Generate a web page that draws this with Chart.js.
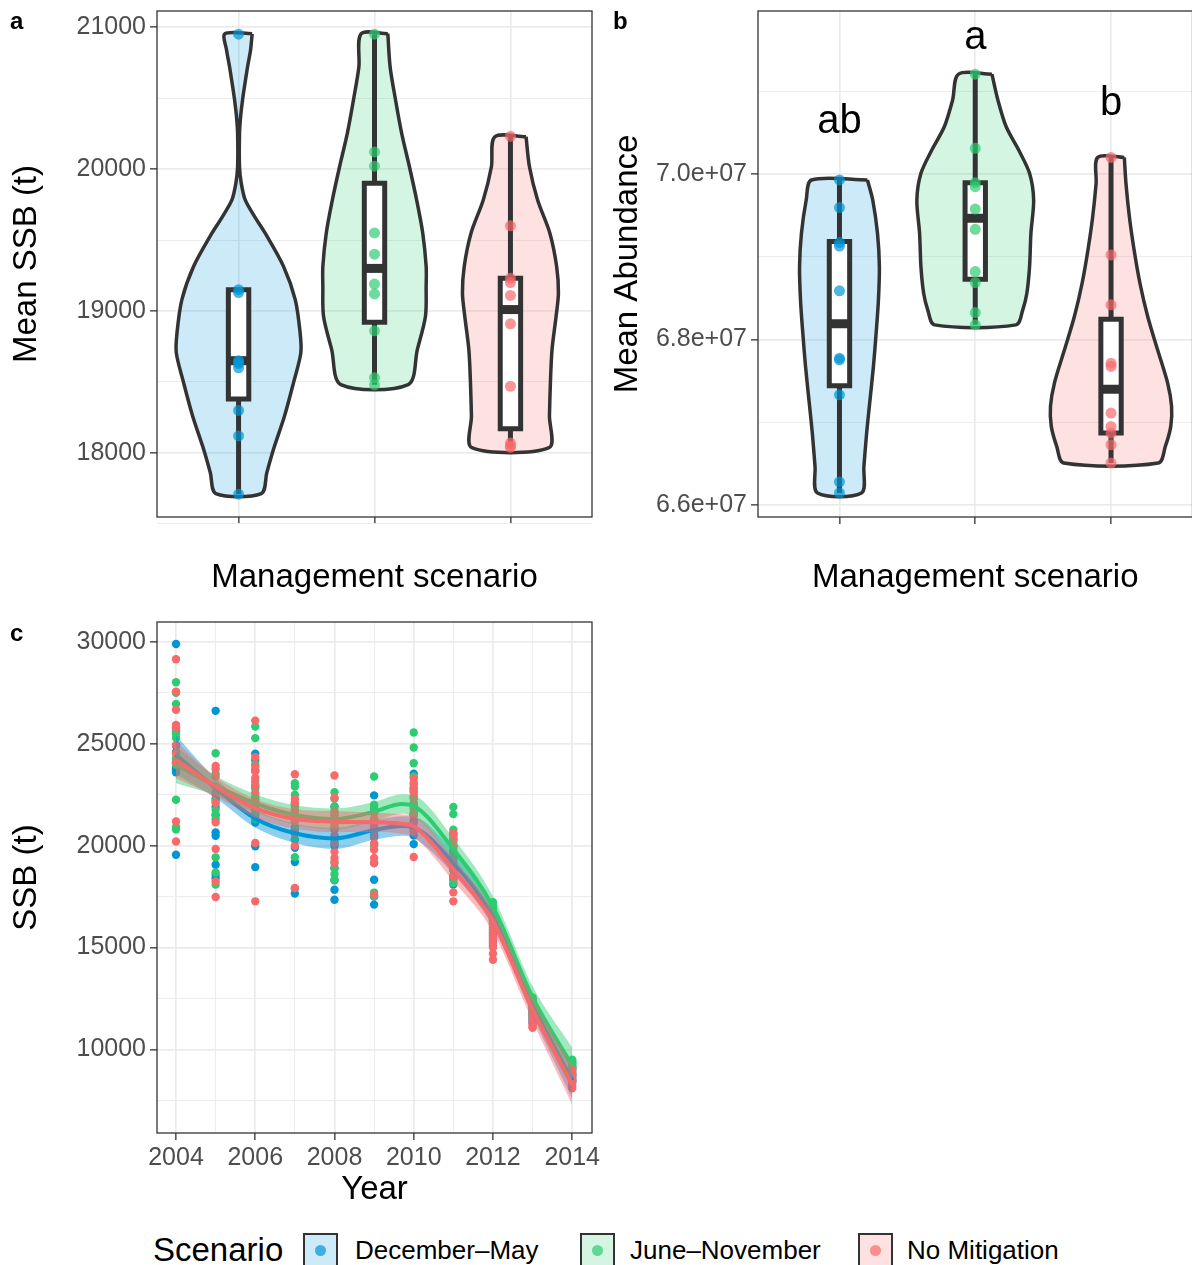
<!DOCTYPE html>
<html>
<head>
<meta charset="utf-8">
<title>SSB by management scenario</title>
<script src="https://cdn.jsdelivr.net/npm/chart.js@4.4.1/dist/chart.umd.min.js"></script>
<style>
  body { margin: 0; width: 1192px; height: 1265px; position: relative; overflow: hidden; background: #fff;
         font-family: 'Liberation Sans', Arial, sans-serif; color: #000; }
  canvas { position: absolute; }
  .tag { position: absolute; font-size: 24px; font-weight: bold; line-height: 1; }
  .legend-title { position: absolute; left: 153px; top: 1231px; font-size: 33px; line-height: 38px; }
  .key { position: absolute; top: 1233px; width: 31px; height: 31px; border: 2px solid #333; box-sizing: content-box; }
  .key span { position: absolute; left: 10px; top: 10px; width: 11px; height: 11px; border-radius: 50%; }
  .key-label { position: absolute; top: 1235px; font-size: 26px; line-height: 30px; }
</style>
</head>
<body>
<canvas id="chartA" width="600" height="610" style="left:0;top:0"></canvas>
<canvas id="chartB" width="598" height="610" style="left:600px;top:0"></canvas>
<canvas id="chartC" width="600" height="620" style="left:0;top:610px"></canvas>
<div class="tag" style="left:10px;top:9px">a</div>
<div class="tag" style="left:613px;top:9px">b</div>
<div class="tag" style="left:10px;top:621px">c</div>
<div id="legend"></div>

<script>
Chart.defaults.font.family = "'Liberation Sans', Arial, sans-serif";
Chart.defaults.color = '#4d4d4d';

// Scenarios
const scenarioNames = ['December–May', 'June–November', 'No Mitigation'];
const scenarioColors = ['#0096d6', '#2ecc71', '#f8696b'];
const categoryPos = [1, 2, 3];

// Panel a: mean SSB per replicate
const ssbPoints = [
    [20950, 19150, 19130, 18650, 18640, 18630, 18600, 18300, 18120, 17710],
    [20950, 20120, 20020, 19550, 19400, 19190, 19120, 18860, 18530, 18480],
    [20230, 19600, 19230, 19200, 19110, 18910, 18470, 18070, 18050, 18040]
];
// lower whisker, q1, median, q3, upper whisker
const ssbBoxStats = [
    [17710, 18380, 18650, 19150, 19150],
    [18480, 18920, 19300, 19900, 20950],
    [18040, 18170, 19010, 19230, 20230]
];
const ssbViolinY = [
    [20953, 20836, 20719, 20602, 20485, 20368, 20251, 20016, 19899, 19782, 19665, 19548, 19314, 19080, 18845, 18705, 18494, 18260, 18026, 17862, 17714],
    [20953, 20719, 20485, 20251, 20016, 19782, 19548, 19314, 19173, 18963, 18728, 18482],
    [20227, 20016, 19782, 19548, 19314, 19126, 18963, 18728, 18494, 18260, 18037]
];
const ssbViolinW = [
    [0.100, 0.088, 0.066, 0.047, 0.029, 0.015, 0.007, 0.007, 0.020, 0.049, 0.118, 0.196, 0.331, 0.417, 0.453, 0.458, 0.404, 0.338, 0.257, 0.208, 0.167],
    [0.098, 0.115, 0.155, 0.200, 0.257, 0.310, 0.355, 0.380, 0.380, 0.375, 0.315, 0.248],
    [0.115, 0.140, 0.200, 0.290, 0.340, 0.353, 0.336, 0.306, 0.294, 0.287, 0.284]
];
const ssbTicks = [17500, 18000, 18500, 19000, 19500, 20000, 20500, 21000];
const ssbTickLabels = ['', '18000', '', '19000', '', '20000', '', '21000'];

// Panel b: mean abundance per replicate
const abundancePoints = [
    [69928000, 69594000, 69171000, 69130000, 68588000, 67775000, 67755000, 67332000, 66278000, 66145000],
    [71207000, 70310000, 69895000, 69847000, 69577000, 69332000, 68821000, 68688000, 68326000, 68177000],
    [70201000, 69022000, 68419000, 67714000, 67674000, 67111000, 66950000, 66869000, 66728000, 66507000]
];
const abundanceBoxStats = [
    [66145000, 67441000, 68189000, 69183000, 69928000],
    [68177000, 68728000, 69465000, 69895000, 71207000],
    [66507000, 66869000, 67400000, 68245000, 70201000]
];
const abundanceViolinY = [
    [69928000, 69686000, 69284000, 68881000, 68479000, 68076000, 67674000, 67272000, 66869000, 66467000, 66145000],
    [71207000, 70893000, 70571000, 70290000, 70008000, 69686000, 69284000, 68881000, 68559000, 68358000, 68177000],
    [70201000, 69887000, 69485000, 69082000, 68680000, 68278000, 67875000, 67473000, 67191000, 66950000, 66708000, 66507000]
];
const abundanceViolinW = [
    [0.206, 0.245, 0.280, 0.294, 0.287, 0.270, 0.250, 0.225, 0.200, 0.180, 0.162],
    [0.123, 0.167, 0.228, 0.320, 0.400, 0.430, 0.410, 0.400, 0.380, 0.350, 0.300],
    [0.098, 0.110, 0.135, 0.170, 0.213, 0.270, 0.343, 0.417, 0.446, 0.440, 0.400, 0.348]
];
const abundanceTicks = [66000000, 67000000, 68000000, 69000000, 70000000, 71000000];
const abundanceTickLabels = ['6.6e+07', '', '6.8e+07', '', '7.0e+07', ''];
const abundanceLetters = ['ab', 'a', 'b'];
const abundanceLetterY = [70494000, 71506000, 70711000];

// Panel c: yearly SSB per replicate
const years = [2004, 2005, 2006, 2007, 2008, 2009, 2010, 2011, 2012, 2013, 2014];
const yearTickLabels = ['2004', '', '2006', '', '2008', '', '2010', '', '2012', '', '2014'];
const ssbYearTicks = [7500, 10000, 12500, 15000, 17500, 20000, 22500, 25000, 27500, 30000];
const ssbYearTickLabels = ['', '10000', '', '15000', '', '20000', '', '25000', '', '30000'];
const ssbDecMay = [
    [29900, 25800, 25600, 24900, 24600, 24100, 23800, 23700, 23600, 19560],
    [26620, 22600, 22300, 21900, 21500, 20650, 20490, 19070, 18580, 18400],
    [24510, 24210, 23700, 22900, 22300, 21800, 21140, 19970, 18950, 21500],
    [22100, 21700, 21300, 20900, 20600, 20300, 19900, 19200, 17900, 17650],
    [21930, 21600, 21200, 20800, 20400, 20000, 18900, 18300, 17840, 17350],
    [22470, 21800, 21300, 20900, 20500, 20100, 19150, 18330, 17500, 17110],
    [23530, 22800, 22400, 22000, 21600, 21520, 21200, 20800, 20500, 20080],
    [20600, 20300, 20000, 19700, 19400, 19100, 18800, 18500, 18330, 18100],
    [16900, 16700, 16500, 16300, 16100, 15900, 15700, 15500, 15300, 15100],
    [12300, 12200, 12000, 11900, 11800, 11700, 11600, 11500, 11400, 11300],
    [9100, 9000, 8900, 8800, 8750, 8700, 8600, 8500, 8450, 8400]
];
const ssbJunNov = [
    [28020, 27500, 26960, 25520, 25300, 24300, 23970, 22255, 20915, 20800],
    [24540, 23530, 22900, 22200, 21760, 21520, 21300, 19430, 18690, 18090],
    [25850, 25280, 24000, 23150, 22800, 22420, 22100, 21800, 21600, 21300],
    [23070, 22900, 22500, 22000, 21600, 21200, 20800, 20290, 19440, 21900],
    [22630, 22300, 21900, 21500, 21000, 20200, 19200, 18900, 18600, 18330],
    [23400, 22010, 21900, 21600, 21200, 20800, 20400, 20000, 17700, 17520],
    [25556, 24820, 24050, 23400, 23000, 22700, 22400, 22100, 21800, 21500],
    [21900, 21550, 20790, 20500, 20200, 19900, 19600, 19200, 18800, 18170],
    [17222, 17026, 16900, 16800, 16700, 16600, 16500, 16400, 16300, 16200],
    [12550, 12450, 12350, 12250, 12150, 12050, 11950, 11850, 11750, 11650],
    [9500, 9450, 9400, 9350, 9300, 9250, 9200, 9150, 9100, 9050]
];
const ssbNoMit = [
    [29150, 27565, 26670, 25930, 25770, 24950, 24540, 24085, 21190, 20210],
    [23920, 23760, 23400, 22900, 22500, 22100, 21150, 19840, 18250, 17480],
    [26140, 24350, 23890, 23640, 23320, 22990, 22600, 22200, 20130, 17270],
    [23510, 22300, 22000, 21700, 21440, 21200, 20600, 20000, 17925, 22100],
    [23450, 22340, 21680, 21300, 20900, 20500, 20100, 19700, 19400, 19150],
    [21600, 21300, 21000, 20700, 20400, 20100, 19800, 19400, 19150, 17600],
    [23300, 23100, 22830, 22600, 22300, 21900, 21500, 21100, 20700, 19445],
    [20620, 20450, 20300, 20000, 19700, 19300, 18900, 18500, 17710, 17270],
    [16400, 16200, 16000, 15800, 15600, 15400, 15200, 15000, 14700, 14400],
    [12450, 12250, 12050, 11850, 11650, 11450, 11300, 11200, 11100, 11060],
    [9000, 8900, 8800, 8700, 8600, 8500, 8400, 8300, 8200, 8100]
];
// Smoothed trend and confidence half-widths
const smoothYears = [2004, 2005, 2006, 2007, 2008, 2009, 2009.7, 2010, 2011, 2012, 2013, 2014];
const smoothDecMay = [24460, 22820, 21340, 20610, 20360, 20770, 20970, 20900, 19150, 16536, 12200, 8480];
const smoothJunNov = [23970, 22950, 22080, 21510, 21310, 21670, 22050, 21950, 19820, 17000, 12550, 9200];
const smoothNoMit = [24210, 22900, 21840, 21310, 21180, 21150, 21070, 20950, 18820, 16290, 11950, 8250];
const bandDecMay = [950, 480, 450, 480, 520, 480, 480, 520, 550, 520, 550, 900];
const bandJunNov = [900, 480, 450, 480, 520, 480, 480, 520, 550, 520, 550, 900];
const bandNoMit = [900, 480, 450, 480, 520, 480, 480, 520, 550, 520, 550, 950];

const BOX_HALF = 0.075;

function alpha(hex, a) {
    const n = parseInt(hex.slice(1), 16);
    return `rgba(${n >> 16}, ${(n >> 8) & 255}, ${n & 255}, ${a})`;
}

// first dataset in the list is drawn first (bottom)
function stackOrder(sets) {
    sets.forEach((s, i) => { s.order = sets.length - i; });
    return sets;
}

// Frame around the plotting area
const panelBorder = {
    id: 'panelBorder',
    afterDraw(chart) {
        const { ctx, chartArea: a } = chart;
        ctx.save();
        ctx.strokeStyle = '#333';
        ctx.lineWidth = 1.3;
        ctx.strokeRect(a.left, a.top, a.right - a.left, a.bottom - a.top);
        ctx.restore();
    }
};

// Significance letters above the violins
const groupLetters = {
    id: 'groupLetters',
    afterDatasetsDraw(chart) {
        const { ctx, scales: { x, y } } = chart;
        ctx.save();
        ctx.font = "40px 'Liberation Sans', Arial, sans-serif";
        ctx.fillStyle = '#000';
        ctx.textAlign = 'center';
        ctx.textBaseline = 'alphabetic';
        abundanceLetters.forEach((t, i) => {
            ctx.fillText(t, x.getPixelForValue(categoryPos[i]), y.getPixelForValue(abundanceLetterY[i]));
        });
        ctx.restore();
    }
};

function gridOpts(isMajor) {
    return {
        color: '#ebebeb',
        lineWidth: ctx => isMajor(ctx.index) ? 1.7 : 0.9,
        tickLength: 7,
        tickWidth: 1.3,
        tickColor: ctx => isMajor(ctx.index) ? '#333' : 'rgba(0,0,0,0)'
    };
}

// fixed axis sizes so the plotting areas line up like the original
function fixX(height) {
    return s => { s.height = height; s.paddingLeft = 0; s.paddingRight = 0; };
}
function fixY(width) {
    return s => { s.width = width; s.paddingTop = 0; s.paddingBottom = 0; };
}

function violinLayers(points, stats, vY, vW) {
    const violins = [], whiskers = [], boxes = [], medians = [], dots = [];
    scenarioNames.forEach((name, g) => {
        const c = categoryPos[g];
        const col = scenarioColors[g];
        const outline = vY[g].map((y, i) => ({ x: c + vW[g][i], y }));
        for (let i = vY[g].length - 1; i >= 0; i--) {
            outline.push({ x: c - vW[g][i], y: vY[g][i] });
        }
        outline.push({ ...outline[0] });
        violins.push({
            label: name, data: outline, borderColor: '#333', borderWidth: 3.5,
            backgroundColor: alpha(col, 0.2), fill: 'shape', tension: 0.3,
            pointRadius: 0, borderJoinStyle: 'round'
        });

        const [lo, q1, med, q3, hi] = stats[g];
        whiskers.push({
            data: [{ x: c, y: lo }, { x: c, y: hi }],
            borderColor: '#333', borderWidth: 5, pointRadius: 0, fill: false
        });
        boxes.push({
            data: [
                { x: c - BOX_HALF, y: q1 }, { x: c + BOX_HALF, y: q1 },
                { x: c + BOX_HALF, y: q3 }, { x: c - BOX_HALF, y: q3 },
                { x: c - BOX_HALF, y: q1 }
            ],
            borderColor: '#333', borderWidth: 5, backgroundColor: '#fff', fill: 'shape',
            tension: 0, pointRadius: 0, borderJoinStyle: 'miter', borderCapStyle: 'square'
        });
        medians.push({
            data: [{ x: c - BOX_HALF, y: med }, { x: c + BOX_HALF, y: med }],
            borderColor: '#333', borderWidth: 9, pointRadius: 0, fill: false, borderCapStyle: 'butt'
        });
        dots.push({
            data: points[g].map(y => ({ x: c, y })),
            showLine: false, pointRadius: 5.5, pointBorderWidth: 0,
            pointBackgroundColor: alpha(col, 0.7)
        });
    });
    return stackOrder([...violins, ...whiskers, ...boxes, ...medians, ...dots]);
}

function violinChart(id, sets, yCfg, extraPlugins) {
    return new Chart(document.getElementById(id), {
        type: 'line',
        data: { datasets: sets },
        options: {
            responsive: false,
            animation: false,
            events: [],
            layout: { padding: { top: 11, right: yCfg.padRight, left: 0, bottom: 0 } },
            plugins: { legend: { display: false }, tooltip: { enabled: false } },
            scales: {
                x: {
                    type: 'linear', min: 0.4, max: 3.6,
                    afterBuildTicks: s => { s.ticks = categoryPos.map(v => ({ value: v })); },
                    afterFit: fixX(93),
                    ticks: { callback: () => '', autoSkip: false, maxRotation: 0 },
                    grid: gridOpts(() => true),
                    border: { display: false },
                    title: {
                        display: true, text: 'Management scenario', color: '#000',
                        font: { size: 33 }, padding: { top: 0, bottom: 12 }
                    }
                },
                y: {
                    type: 'linear', min: yCfg.min, max: yCfg.max,
                    afterBuildTicks: s => { s.ticks = yCfg.ticks.map(v => ({ value: v })); },
                    afterFit: fixY(yCfg.width),
                    ticks: {
                        callback: (v, i) => yCfg.labels[i], autoSkip: false,
                        font: { size: 25 }, color: '#4d4d4d', padding: 4
                    },
                    grid: gridOpts(i => yCfg.labels[i] !== ''),
                    border: { display: false },
                    title: {
                        display: true, text: yCfg.title, color: '#000',
                        font: { size: 33 }, padding: { top: yCfg.titlePad, bottom: 0 }
                    }
                }
            }
        },
        plugins: [panelBorder, ...extraPlugins]
    });
}

// Panel a
violinChart('chartA', violinLayers(ssbPoints, ssbBoxStats, ssbViolinY, ssbViolinW), {
    min: 17549, max: 21113, ticks: ssbTicks, labels: ssbTickLabels,
    title: 'Mean SSB (t)', titlePad: 7, width: 157, padRight: 8
}, []);

// Panel b (its right edge runs off the page, as in the original)
violinChart('chartB', violinLayers(abundancePoints, abundanceBoxStats, abundanceViolinY, abundanceViolinW), {
    min: 65855000, max: 71970000, ticks: abundanceTicks, labels: abundanceTickLabels,
    title: 'Mean Abundance', titlePad: 8, width: 158, padRight: 0
}, [groupLetters]);

// Panel c
function trendLayers() {
    const sets = [];
    [ssbDecMay, ssbJunNov, ssbNoMit].forEach((byYear, g) => {
        const pts = [];
        byYear.forEach((vals, i) => vals.forEach(v => pts.push({ x: years[i], y: v })));
        sets.push({
            label: scenarioNames[g], data: pts, showLine: false,
            pointRadius: 4.2, pointBorderWidth: 0, pointBackgroundColor: scenarioColors[g]
        });
    });
    const bands = [bandDecMay, bandJunNov, bandNoMit];
    [smoothDecMay, smoothJunNov, smoothNoMit].forEach((line, g) => {
        const col = scenarioColors[g];
        sets.push({
            data: smoothYears.map((x, i) => ({ x, y: line[i] + bands[g][i] })),
            borderColor: 'rgba(0,0,0,0)', borderWidth: 1, pointRadius: 0, fill: false,
            cubicInterpolationMode: 'monotone'
        });
        sets.push({
            data: smoothYears.map((x, i) => ({ x, y: line[i] - bands[g][i] })),
            borderColor: 'rgba(0,0,0,0)', borderWidth: 1, pointRadius: 0, fill: '-1',
            backgroundColor: alpha(col, 0.45), cubicInterpolationMode: 'monotone'
        });
        sets.push({
            data: smoothYears.map((x, i) => ({ x, y: line[i] })),
            borderColor: col, borderWidth: 4, pointRadius: 0, fill: false,
            cubicInterpolationMode: 'monotone'
        });
    });
    return stackOrder(sets);
}

new Chart(document.getElementById('chartC'), {
    type: 'line',
    data: { datasets: trendLayers() },
    options: {
        responsive: false,
        animation: false,
        events: [],
        layout: { padding: { top: 12, right: 8, left: 0, bottom: 0 } },
        plugins: { legend: { display: false }, tooltip: { enabled: false } },
        scales: {
            x: {
                type: 'linear', min: 2003.52, max: 2014.5,
                afterBuildTicks: s => { s.ticks = years.map(v => ({ value: v })); },
                afterFit: fixX(97),
                ticks: {
                    callback: (v, i) => yearTickLabels[i], autoSkip: false,
                    maxRotation: 0, minRotation: 0, font: { size: 25 }, color: '#4d4d4d', padding: 3
                },
                grid: gridOpts(i => yearTickLabels[i] !== ''),
                border: { display: false },
                title: {
                    display: true, text: 'Year', color: '#000',
                    font: { size: 33 }, padding: { top: 0, bottom: 20 }
                }
            },
            y: {
                type: 'linear', min: 5900, max: 30980,
                afterBuildTicks: s => { s.ticks = ssbYearTicks.map(v => ({ value: v })); },
                afterFit: fixY(157),
                ticks: {
                    callback: (v, i) => ssbYearTickLabels[i], autoSkip: false,
                    font: { size: 25 }, color: '#4d4d4d', padding: 4
                },
                grid: gridOpts(i => ssbYearTickLabels[i] !== ''),
                border: { display: false },
                title: {
                    display: true, text: 'SSB (t)', color: '#000',
                    font: { size: 33 }, padding: { top: 7, bottom: 0 }
                }
            }
        }
    },
    plugins: [panelBorder]
});

// Legend
const legendKeyLeft = [303, 580, 858];
const legendLabelLeft = [355, 630, 907];
const legend = document.getElementById('legend');
legend.innerHTML = '<div class="legend-title">Scenario</div>' + scenarioNames.map((name, g) => `
    <div class="key" style="left:${legendKeyLeft[g]}px;background:${alpha(scenarioColors[g], 0.2)}">
        <span style="background:${alpha(scenarioColors[g], 0.7)}"></span>
    </div>
    <div class="key-label" style="left:${legendLabelLeft[g]}px">${name}</div>`).join('');
</script>
</body>
</html>
